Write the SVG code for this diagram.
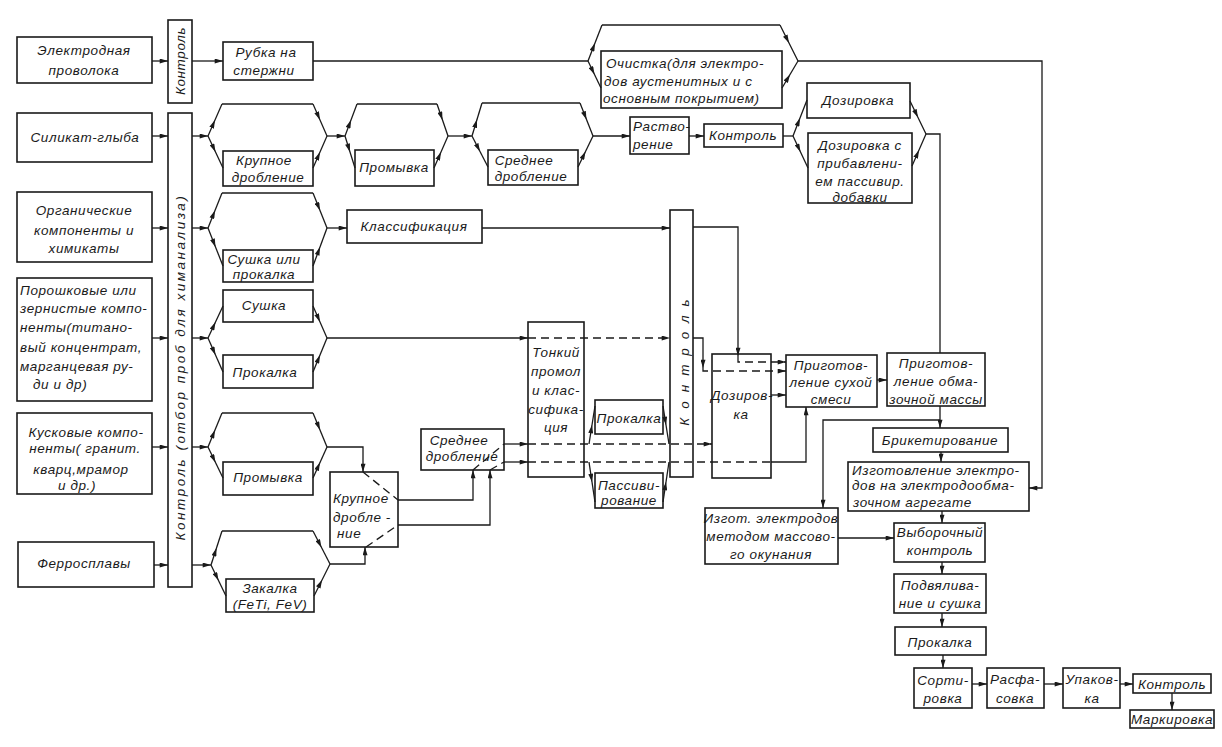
<svg xmlns="http://www.w3.org/2000/svg" width="1222" height="747" viewBox="0 0 1222 747">
<defs>
<marker id="ah" viewBox="0 0 10 6" refX="10" refY="3" markerWidth="9" markerHeight="5" markerUnits="userSpaceOnUse" orient="auto">
<path d="M0,0 L10,3 L0,6 Z" fill="#1a1a1a"/>
</marker>
<style>
rect{fill:#fff;stroke:#1a1a1a;stroke-width:1.6}
text{font-family:"Liberation Sans",Arial,sans-serif;font-style:italic;font-size:13.5px;fill:#1a1a1a;letter-spacing:0.6px;dominant-baseline:central;text-anchor:middle}
text.l{text-anchor:start}
.c path{fill:none;stroke:#1a1a1a;stroke-width:1.3}
.c path.a{marker-end:url(#ah)}
.c path.m{marker-mid:url(#ah)}
.c path.d{stroke-dasharray:8,5}
</style>
</defs>
<rect x="0" y="0" width="1222" height="747" style="fill:#fff;stroke:none"/>

<g id="n-wire"><rect x="17" y="37" width="135" height="46"/><text x="84" y="50">Электродная</text><text x="84" y="70">проволока</text></g>
<g id="n-ctrl-wire"><rect x="168" y="20" width="24" height="83"/><text transform="translate(180,61) rotate(-90)">Контроль</text></g>
<g id="n-cut"><rect x="223" y="42" width="90" height="38"/><text x="266" y="52">Рубка на</text><text x="264" y="70">стержни</text></g>
<g id="n-clean"><rect x="601" y="51" width="181" height="57"/><text class="l" x="606" y="63">Очистка(для электро-</text><text class="l" x="604" y="81">дов аустенитных и с</text><text class="l" x="603" y="98">основным покрытием)</text></g>

<g id="n-silicate"><rect x="17" y="113" width="135" height="49"/><text x="85" y="137">Силикат-глыба</text></g>
<g id="n-ctrl-main"><rect x="168" y="113" width="24" height="474"/><text transform="translate(180,368) rotate(-90)" textLength="345">Контроль (отбор проб для химанализа)</text></g>
<g id="n-coarse1"><rect x="223" y="151" width="90" height="35"/><text x="264" y="160">Крупное</text><text x="268" y="177">дробление</text></g>
<g id="n-wash1"><rect x="355" y="150" width="79" height="36"/><text x="394" y="167">Промывка</text></g>
<g id="n-medium1"><rect x="488" y="150" width="90" height="35"/><text x="524" y="160">Среднее</text><text x="531" y="176">дробление</text></g>
<g id="n-dissolve"><rect x="630" y="117" width="59" height="37"/><text class="l" x="633" y="126">Раство-</text><text class="l" x="633" y="144">рение</text></g>
<g id="n-ctrl-sil"><rect x="704" y="124" width="79" height="23"/><text x="743" y="135">Контроль</text></g>
<g id="n-dose1"><rect x="807" y="83" width="103" height="35"/><text x="858" y="100">Дозировка</text></g>
<g id="n-dose2"><rect x="808" y="133" width="104" height="70"/><text x="860" y="145">Дозировка с</text><text x="860" y="163">прибавлени-</text><text x="860" y="181">ем пассивир.</text><text x="860" y="197">добавки</text></g>

<g id="n-organic"><rect x="17" y="192" width="135" height="70"/><text x="84" y="210">Органические</text><text x="84" y="230">компоненты и</text><text x="84" y="248">химикаты</text></g>
<g id="n-dry-calc"><rect x="223" y="250" width="90" height="32"/><text x="264" y="259">Сушка или</text><text x="264" y="274">прокалка</text></g>
<g id="n-classif"><rect x="347" y="210" width="135" height="33"/><text x="414" y="226">Классификация</text></g>
<g id="n-ctrl-tall"><rect x="670" y="210" width="23" height="267"/><text transform="translate(684,358) rotate(-90)" style="letter-spacing:9px">Контроль</text></g>

<g id="n-powder"><rect x="17" y="278" width="135" height="123"/><text class="l" x="20" y="290">Порошковые или</text><text class="l" x="20" y="308">зернистые компо-</text><text class="l" x="20" y="327">ненты(титано-</text><text class="l" x="20" y="347">вый концентрат,</text><text class="l" x="20" y="366">марганцевая ру-</text><text class="l" x="33" y="384">ди и др)</text></g>
<g id="n-dry"><rect x="223" y="290" width="90" height="32"/><text x="264" y="305">Сушка</text></g>
<g id="n-calc1"><rect x="223" y="355" width="90" height="33"/><text x="265" y="372">Прокалка</text></g>
<g id="n-fine"><rect x="528" y="322" width="56" height="155"/><text x="556" y="352">Тонкий</text><text x="556" y="371">промол</text><text x="556" y="390">и клас-</text><text x="556" y="409">сифика-</text><text x="556" y="427">ция</text></g>
<g id="n-calc2"><rect x="595" y="400" width="68" height="34"/><text x="629" y="418">Прокалка</text></g>
<g id="n-passiv"><rect x="595" y="473" width="68" height="35"/><text x="629" y="485">Пассиви-</text><text x="629" y="500">рование</text></g>
<g id="n-dose3"><rect x="712" y="354" width="59" height="124"/><text x="742" y="395">Дозиров-</text><text x="741" y="414">ка</text></g>
<g id="n-drymix"><rect x="786" y="355" width="91" height="52"/><text x="831" y="365">Приготов-</text><text x="831" y="382">ление сухой</text><text x="831" y="399">смеси</text></g>
<g id="n-coat"><rect x="887" y="353" width="98" height="53"/><text x="936" y="363">Приготов-</text><text x="936" y="381">ление обма-</text><text x="936" y="399">зочной массы</text></g>

<g id="n-lump"><rect x="17" y="413" width="135" height="81"/><text x="86" y="432">Кусковые компо-</text><text x="85" y="448">ненты( гранит.</text><text x="81" y="469">кварц,мрамор</text><text x="77" y="485">и др.)</text></g>
<g id="n-wash2"><rect x="223" y="462" width="90" height="33"/><text x="268" y="477">Промывка</text></g>
<g id="n-coarse2"><rect x="330" y="472" width="68" height="75"/><text class="l" x="333" y="498">Крупное</text><text class="l" x="333" y="517">дробле -</text><text class="l" x="337" y="533">ние</text></g>
<g id="n-medium2"><rect x="421" y="429" width="83" height="41"/><text x="459" y="440">Среднее</text><text x="462" y="456">дробление</text></g>
<g id="n-brick"><rect x="873" y="428" width="135" height="24"/><text x="940" y="440">Брикетирование</text></g>
<g id="n-machine"><rect x="848" y="462" width="181" height="49"/><text class="l" x="852" y="470">Изготовление электро-</text><text class="l" x="852" y="485">дов на электродообма-</text><text class="l" x="853" y="502">зочном агрегате</text></g>

<g id="n-ferro"><rect x="18" y="542" width="136" height="45"/><text x="84" y="563">Ферросплавы</text></g>
<g id="n-quench"><rect x="226" y="579" width="88" height="33"/><text x="270" y="588">Закалка</text><text x="270" y="604">(FeTi, FeV)</text></g>
<g id="n-dip"><rect x="705" y="508" width="133" height="56"/><text x="771" y="518">Изгот. электродов</text><text x="771" y="536">методом массово-</text><text x="771" y="554">го окунания</text></g>
<g id="n-sample"><rect x="894" y="523" width="91" height="39"/><text x="940" y="532">Выборочный</text><text x="940" y="550">контроль</text></g>
<g id="n-wilt"><rect x="894" y="574" width="92" height="39"/><text x="940" y="585">Подвялива-</text><text x="940" y="603">ние и сушка</text></g>
<g id="n-bake"><rect x="895" y="627" width="91" height="28"/><text x="940" y="642">Прокалка</text></g>
<g id="n-sort"><rect x="914" y="668" width="58" height="40"/><text x="943" y="680">Сорти-</text><text x="943" y="698">ровка</text></g>
<g id="n-pack1"><rect x="987" y="668" width="57" height="40"/><text x="1015" y="679">Расфа-</text><text x="1015" y="698">совка</text></g>
<g id="n-pack2"><rect x="1063" y="668" width="57" height="40"/><text x="1092" y="679">Упаков-</text><text x="1092" y="698">ка</text></g>
<g id="n-ctrl-final"><rect x="1133" y="674" width="78" height="19"/><text x="1172" y="684">Контроль</text></g>
<g id="n-mark"><rect x="1130" y="710" width="84" height="18"/><text x="1172" y="719">Маркировка</text></g>

<g class="c" id="connectors">
<path class="a" d="M152,61 L168,61"/>
<path class="a" d="M192,61 L223,61"/>
<path d="M313,61 L588,61"/>
<path class="m" d="M588,61 L595,43 L602,25"/>
<path d="M602,25 L780,25"/>
<path class="m" d="M780,25 L789,43 L798,61"/>
<path class="m" d="M588,61 L594.5,74.5 L601,88"/>
<path class="m" d="M782,88 L790,74.5 L798,61"/>
<path class="a" d="M798,61 L1042,61 L1042,488 L1029,488"/>
<path class="a" d="M152,136 L168,136"/>
<path class="a" d="M192,136 L208,136"/>
<path class="m" d="M208,136 L215,120 L222,104"/>
<path d="M222,104 L313,104"/>
<path class="m" d="M313,104 L320,120 L327,136"/>
<path class="m" d="M208,136 L215.5,152 L223,168"/>
<path class="m" d="M313,168 L320,152 L327,136"/>
<path class="a" d="M327,136 L345,136"/>
<path class="m" d="M345,136 L351,120 L357,104"/>
<path d="M357,104 L437,104"/>
<path class="m" d="M437,104 L442.5,120 L448,136"/>
<path class="m" d="M345,136 L350,152 L355,168"/>
<path class="m" d="M434,168 L441,152 L448,136"/>
<path class="a" d="M448,136 L472,136"/>
<path class="m" d="M472,136 L477,119.5 L482,103"/>
<path d="M482,103 L580,103"/>
<path class="m" d="M580,103 L586.5,119.5 L593,136"/>
<path class="m" d="M472,136 L480,151.5 L488,167"/>
<path class="m" d="M578,167 L585.5,151.5 L593,136"/>
<path class="a" d="M593,136 L630,136"/>
<path class="a" d="M689,136 L704,136"/>
<path d="M783,136 L793,136"/>
<path class="m" d="M793,136 L800,118 L807,100"/>
<path class="m" d="M793,136 L800.5,152 L808,168"/>
<path class="m" d="M910,101 L918,117.5 L926,134"/>
<path class="m" d="M912,166 L919,150 L926,134"/>
<path d="M926,134 L940,134 L940,353"/>
<path class="a" d="M152,228 L168,228"/>
<path class="a" d="M192,228 L208,228"/>
<path class="m" d="M208,228 L215,210.5 L222,193"/>
<path d="M222,193 L313,193"/>
<path class="m" d="M313,193 L320,210.5 L327,228"/>
<path class="m" d="M208,228 L215.5,247 L223,266"/>
<path class="m" d="M313,266 L320,247 L327,228"/>
<path class="a" d="M327,228 L347,228"/>
<path class="a" d="M482,228 L670,228"/>
<path class="a" d="M693,227 L738,227 L738,356"/>
<path class="a d" d="M738,356 L738,362 L786,362"/>
<path class="a" d="M152,338 L168,338"/>
<path class="a" d="M192,338 L208,338"/>
<path class="m" d="M208,338 L215.5,322 L223,306"/>
<path class="m" d="M208,338 L215.5,355 L223,372"/>
<path class="m" d="M313,306 L320,322 L327,338"/>
<path class="m" d="M313,372 L320,355 L327,338"/>
<path class="a" d="M327,338 L528,338"/>
<path class="a d" d="M528,338 L670,338"/>
<path class="a" d="M693,338 L703,338 L703,368"/>
<path class="a d" d="M703,368 L703,371 L786,371"/>
<path class="a" d="M152,447 L168,447"/>
<path class="a" d="M192,447 L208,447"/>
<path class="m" d="M208,447 L215,430 L222,413"/>
<path d="M222,413 L313,413"/>
<path class="m" d="M313,413 L320,430 L327,447"/>
<path class="m" d="M208,447 L215.5,462.5 L223,478"/>
<path class="m" d="M313,478 L320,462.5 L327,447"/>
<path class="a" d="M327,447 L363,447 L363,472"/>
<path class="d" d="M363,472 L398,500"/>
<path class="d" d="M366,547 L398,525"/>
<path class="a" d="M398,500 L473,500 L473,470"/>
<path class="a" d="M398,525 L490,525 L490,470"/>
<path class="d" d="M473,470 L504,444"/>
<path class="d" d="M490,470 L504,462"/>
<path class="a" d="M504,444 L528,444"/>
<path class="a d" d="M528,444 L712,444"/>
<path class="a" d="M504,462 L528,462"/>
<path class="d" d="M528,462 L771,462"/>
<path class="a" d="M771,462 L806,462 L806,407"/>
<path class="m" d="M589,444 L592,425 L595,406"/>
<path class="m" d="M663,406 L666,425 L669,444"/>
<path class="m" d="M589,462 L592,482 L595,502"/>
<path class="m" d="M663,502 L666,482 L669,462"/>
<path class="a" d="M771,395 L786,395"/>
<path class="a" d="M154,565 L168,565"/>
<path class="a" d="M192,565 L211,565"/>
<path class="m" d="M211,565 L216.5,548 L222,531"/>
<path d="M222,531 L313,531"/>
<path class="m" d="M313,531 L321.5,547.5 L330,564"/>
<path class="m" d="M211,565 L218.5,580.5 L226,596"/>
<path class="m" d="M314,596 L322,580 L330,564"/>
<path class="a" d="M330,564 L365,564 L365,547"/>
<path class="a" d="M877,380 L887,380"/>
<path class="a" d="M940,406 L940,428"/>
<path class="a" d="M940,420 L823,420 L823,508"/>
<path class="a" d="M941,452 L941,462"/>
<path class="a" d="M942,511 L942,523"/>
<path class="a" d="M838,538 L894,538"/>
<path class="a" d="M942,562 L942,574"/>
<path class="a" d="M942,613 L942,627"/>
<path class="a" d="M943,655 L943,668"/>
<path class="a" d="M972,684 L987,684"/>
<path class="a" d="M1044,684 L1063,684"/>
<path class="a" d="M1120,684 L1133,684"/>
<path class="a" d="M1172,693 L1172,710"/>
</g>
</svg>
